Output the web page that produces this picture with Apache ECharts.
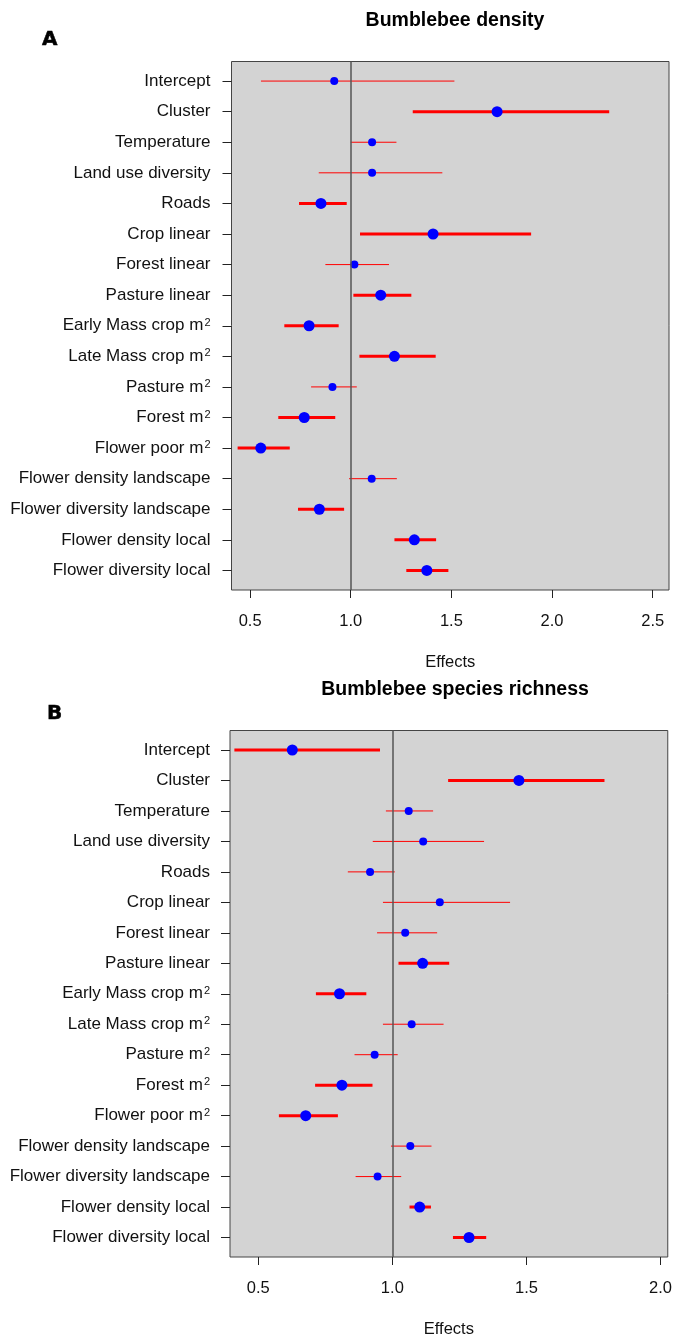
<!DOCTYPE html>
<html>
<head>
<meta charset="utf-8">
<script src="https://cdn.jsdelivr.net/npm/echarts@6/dist/echarts.min.js"></script>
<style>
  html, body { margin: 0; padding: 0; background: #fff; }
  #chart { width: 675px; height: 1339px; }
</style>
</head>
<body>
<div id="chart"></div>
<script>
// model terms, top to bottom
const terms = ['Intercept', 'Cluster', 'Temperature', 'Land use diversity', 'Roads',
  'Crop linear', 'Forest linear', 'Pasture linear', 'Early Mass crop m²',
  'Late Mass crop m²', 'Pasture m²', 'Forest m²', 'Flower poor m²',
  'Flower density landscape', 'Flower diversity landscape',
  'Flower density local', 'Flower diversity local'];
const rows = terms.map((t, i) => i + 1);

// A: bumblebee density
const densityEst  = [0.918, 1.727, 1.106, 1.106, 0.852, 1.409, 1.018, 1.149, 0.793, 1.217, 0.909, 0.769, 0.553, 1.104, 0.844, 1.316, 1.378];
const densityLow  = [0.554, 1.308, 1.000, 0.841, 0.743, 1.046, 0.874, 1.013, 0.670, 1.043, 0.803, 0.640, 0.438, 0.992, 0.738, 1.217, 1.276];
const densityHigh = [1.515, 2.284, 1.227, 1.455, 0.980, 1.896, 1.190, 1.301, 0.940, 1.422, 1.030, 0.923, 0.697, 1.229, 0.967, 1.424, 1.485];
const densityStrong = [0, 1, 0, 0, 1, 1, 0, 1, 1, 1, 0, 1, 1, 0, 1, 1, 1];

// B: bumblebee species richness
const richEst  = [0.627, 1.472, 1.061, 1.115, 0.917, 1.177, 1.048, 1.113, 0.803, 1.072, 0.934, 0.812, 0.677, 1.067, 0.945, 1.102, 1.286];
const richLow  = [0.411, 1.208, 0.976, 0.927, 0.834, 0.965, 0.943, 1.023, 0.715, 0.965, 0.859, 0.712, 0.577, 0.995, 0.863, 1.064, 1.226];
const richHigh = [0.954, 1.791, 1.152, 1.342, 1.009, 1.439, 1.167, 1.212, 0.903, 1.191, 1.020, 0.926, 0.797, 1.146, 1.033, 1.144, 1.350];
const richStrong = [1, 1, 0, 0, 0, 0, 0, 1, 1, 0, 0, 1, 1, 0, 0, 1, 1];

const ticksA = [0.5, 1.0, 1.5, 2.0, 2.5];
const ticksB = [0.5, 1.0, 1.5, 2.0];

const font = 'Liberation Sans, Arial, Helvetica, sans-serif';
const chart = echarts.init(document.getElementById('chart'));

function xAxisFor(idx, min, max, ticks) {
  return {
    gridIndex: idx, type: 'value', min: min, max: max,
    axisLine: { show: false },
    splitLine: { show: false },
    axisTick: { show: true, customValues: ticks, length: 8, lineStyle: { color: '#222' } },
    axisLabel: { customValues: ticks, formatter: v => v.toFixed(1), fontSize: 16.5, color: '#111', fontFamily: font, margin: 23 },
    name: 'Effects', nameLocation: 'middle', nameGap: 64,
    nameTextStyle: { fontSize: 16.5, color: '#111', fontFamily: font }
  };
}

function yAxisFor(idx, margin) {
  return {
    gridIndex: idx, type: 'value', inverse: true, min: 0.36, max: 17.64,
    axisLine: { show: false },
    splitLine: { show: false },
    axisTick: { show: true, customValues: rows, length: 9, lineStyle: { color: '#222' } },
    axisLabel: {
      customValues: rows,
      formatter: v => terms[v - 1].replace('²', '{sup|2}'),
      fontSize: 17, color: '#111', fontFamily: font, margin: margin,
      rich: { sup: { fontSize: 11, color: '#111', fontFamily: font, verticalAlign: 'top', padding: [0, 0, 0, 1] } }
    }
  };
}

function seriesFor(idx, est, low, high, strong) {
  return [
    {
      type: 'custom', xAxisIndex: idx, yAxisIndex: idx, silent: true,
      data: rows.map((r, i) => [low[i], high[i], r, strong[i]]),
      encode: { x: [0, 1], y: 2 },
      renderItem: function (params, api) {
        const a = api.coord([api.value(0), api.value(2)]);
        const b = api.coord([api.value(1), api.value(2)]);
        return {
          type: 'line',
          shape: { x1: a[0], y1: a[1], x2: b[0], y2: b[1] },
          style: { stroke: '#ff0000', lineWidth: api.value(3) ? 3 : 1 }
        };
      }
    },
    {
      type: 'scatter', xAxisIndex: idx, yAxisIndex: idx, silent: true,
      data: rows.map((r, i) => [est[i], r, strong[i]]),
      symbolSize: v => v[2] ? 11 : 8,
      itemStyle: { color: '#0000ff', opacity: 1 },
      z: 3,
      markLine: {
        silent: true, symbol: 'none', label: { show: false },
        lineStyle: { color: '#555', width: 1.5, type: 'solid' },
        data: [{ xAxis: 1 }]
      }
    }
  ];
}

const titleStyle = { fontSize: 19.5, fontWeight: 'bold', color: '#000', fontFamily: font };
const letterStyle = { fontSize: 20, fontWeight: 900, color: '#000', fontFamily: 'DejaVu Sans, sans-serif',
  textBorderColor: '#000', textBorderWidth: 0.5 };

const option = {
  backgroundColor: '#fff',
  animation: false,
  title: [
    { text: 'Bumblebee density', left: 450, top: 6, textAlign: 'center', textStyle: titleStyle },
    { text: 'A', left: 37, top: 25, textStyle: letterStyle },
    { text: 'Bumblebee species richness', left: 450, top: 675, textAlign: 'center', textStyle: titleStyle },
    { text: 'B', left: 42, top: 699, textStyle: letterStyle }
  ],
  grid: [
    { left: 231.5, top: 61.5, width: 437.5, height: 528.5, show: true,
      backgroundColor: '#d3d3d3', borderColor: '#444', borderWidth: 1 },
    { left: 230, top: 730.5, width: 439, height: 528.5, show: true,
      backgroundColor: '#d3d3d3', borderColor: '#444', borderWidth: 1 }
  ],
  xAxis: [
    xAxisFor(0, 0.4076, 2.581, ticksA),
    xAxisFor(1, 0.3947, 2.027, ticksB)
  ],
  yAxis: [yAxisFor(0, 21), yAxisFor(1, 20)],
  series: [].concat(
    seriesFor(0, densityEst, densityLow, densityHigh, densityStrong),
    seriesFor(1, richEst, richLow, richHigh, richStrong)
  )
};

chart.setOption(option);
</script>
</body>
</html>
